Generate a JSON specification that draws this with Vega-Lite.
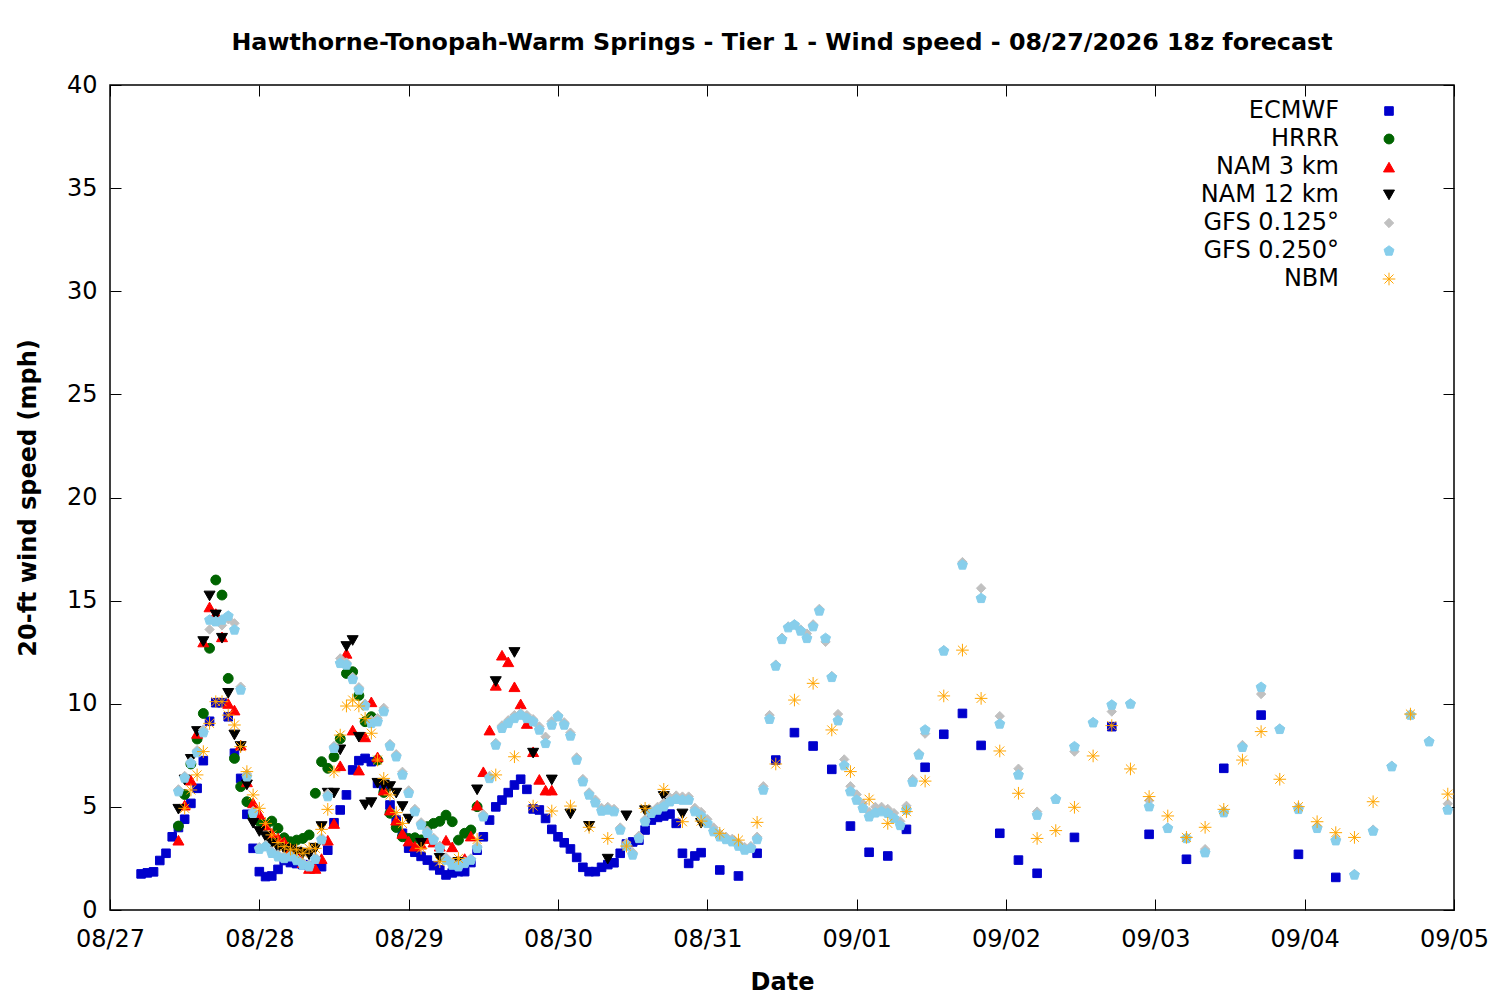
{
  "$schema": "https://vega.github.io/schema/vega-lite/v6.json",
  "autosize": "none",
  "padding": {"left": 110, "top": 85, "right": 46, "bottom": 90},
  "width": 1344,
  "height": 825,
  "background": "white",
  "title": {
    "text": "Hawthorne-Tonopah-Warm Springs - Tier 1 - Wind speed - 08/27/2026 18z forecast",
    "font": "DejaVu Sans",
    "fontSize": 23.8,
    "fontWeight": "bold",
    "color": "black",
    "anchor": "middle",
    "baseline": "alphabetic",
    "offset": -1
  },
  "config": {
    "font": "DejaVu Sans",
    "view": {"stroke": "black", "strokeWidth": 1.5},
    "axis": {
      "labelFont": "DejaVu Sans",
      "labelFontSize": 24,
      "labelColor": "black",
      "titleFont": "DejaVu Sans",
      "titleFontSize": 24,
      "titleFontWeight": "bold",
      "titleColor": "black",
      "tickColor": "black",
      "tickWidth": 1,
      "tickSize": -11,
      "domain": false,
      "grid": false,
      "labelFlush": false
    },
    "legend": {
      "orient": "none",
      "legendX": 1267,
      "legendY": 14,
      "labelAlign": "right",
      "labelOffset": -62,
      "labelFont": "DejaVu Sans",
      "labelFontSize": 24,
      "labelColor": "black",
      "symbolSize": 121,
      "symbolStrokeWidth": 1,
      "rowPadding": 4,
      "padding": 0
    }
  },
  "data": {
    "values": [
      {"m":"ECMWF","t":"2026-08-27T05:00","v":1.75},{"m":"ECMWF","t":"2026-08-27T06:00","v":1.8},{"m":"ECMWF","t":"2026-08-27T07:00","v":1.85},{"m":"ECMWF","t":"2026-08-27T08:00","v":2.4},{"m":"ECMWF","t":"2026-08-27T09:00","v":2.75},{"m":"ECMWF","t":"2026-08-27T10:00","v":3.55},{"m":"ECMWF","t":"2026-08-27T11:00","v":4.0},{"m":"ECMWF","t":"2026-08-27T12:00","v":4.4},{"m":"ECMWF","t":"2026-08-27T13:00","v":5.17},{"m":"ECMWF","t":"2026-08-27T14:00","v":5.9},{"m":"ECMWF","t":"2026-08-27T15:00","v":7.24},{"m":"ECMWF","t":"2026-08-27T16:00","v":9.15},{"m":"ECMWF","t":"2026-08-27T17:00","v":10.05},{"m":"ECMWF","t":"2026-08-27T18:00","v":10.05},{"m":"ECMWF","t":"2026-08-27T19:00","v":9.37},{"m":"ECMWF","t":"2026-08-27T20:00","v":7.6},{"m":"ECMWF","t":"2026-08-27T21:00","v":6.38},{"m":"ECMWF","t":"2026-08-27T22:00","v":4.64},{"m":"ECMWF","t":"2026-08-27T23:00","v":2.99},
      {"m":"ECMWF","t":"2026-08-28T00:00","v":1.86},{"m":"ECMWF","t":"2026-08-28T01:00","v":1.62},{"m":"ECMWF","t":"2026-08-28T02:00","v":1.65},{"m":"ECMWF","t":"2026-08-28T03:00","v":1.97},{"m":"ECMWF","t":"2026-08-28T04:00","v":2.4},{"m":"ECMWF","t":"2026-08-28T05:00","v":2.3},{"m":"ECMWF","t":"2026-08-28T06:00","v":2.25},{"m":"ECMWF","t":"2026-08-28T07:00","v":2.2},{"m":"ECMWF","t":"2026-08-28T08:00","v":2.15},{"m":"ECMWF","t":"2026-08-28T09:00","v":2.1},{"m":"ECMWF","t":"2026-08-28T10:00","v":2.1},{"m":"ECMWF","t":"2026-08-28T11:00","v":2.9},{"m":"ECMWF","t":"2026-08-28T12:00","v":4.23},{"m":"ECMWF","t":"2026-08-28T13:00","v":4.85},{"m":"ECMWF","t":"2026-08-28T14:00","v":5.58},{"m":"ECMWF","t":"2026-08-28T15:00","v":6.79},{"m":"ECMWF","t":"2026-08-28T16:00","v":7.24},{"m":"ECMWF","t":"2026-08-28T17:00","v":7.35},{"m":"ECMWF","t":"2026-08-28T18:00","v":7.19},{"m":"ECMWF","t":"2026-08-28T19:00","v":6.14},{"m":"ECMWF","t":"2026-08-28T20:00","v":5.9},{"m":"ECMWF","t":"2026-08-28T21:00","v":5.09},{"m":"ECMWF","t":"2026-08-28T22:00","v":4.36},{"m":"ECMWF","t":"2026-08-28T23:00","v":3.72},
      {"m":"ECMWF","t":"2026-08-29T00:00","v":3.0},{"m":"ECMWF","t":"2026-08-29T01:00","v":2.8},{"m":"ECMWF","t":"2026-08-29T02:00","v":2.6},{"m":"ECMWF","t":"2026-08-29T03:00","v":2.42},{"m":"ECMWF","t":"2026-08-29T04:00","v":2.15},{"m":"ECMWF","t":"2026-08-29T05:00","v":1.94},{"m":"ECMWF","t":"2026-08-29T06:00","v":1.7},{"m":"ECMWF","t":"2026-08-29T07:00","v":1.8},{"m":"ECMWF","t":"2026-08-29T08:00","v":1.86},{"m":"ECMWF","t":"2026-08-29T09:00","v":1.86},{"m":"ECMWF","t":"2026-08-29T10:00","v":2.3},{"m":"ECMWF","t":"2026-08-29T11:00","v":2.9},{"m":"ECMWF","t":"2026-08-29T12:00","v":3.55},{"m":"ECMWF","t":"2026-08-29T13:00","v":4.36},{"m":"ECMWF","t":"2026-08-29T14:00","v":5.0},{"m":"ECMWF","t":"2026-08-29T15:00","v":5.33},{"m":"ECMWF","t":"2026-08-29T16:00","v":5.69},{"m":"ECMWF","t":"2026-08-29T17:00","v":6.06},{"m":"ECMWF","t":"2026-08-29T18:00","v":6.34},{"m":"ECMWF","t":"2026-08-29T19:00","v":5.85},{"m":"ECMWF","t":"2026-08-29T20:00","v":4.9},{"m":"ECMWF","t":"2026-08-29T21:00","v":4.85},{"m":"ECMWF","t":"2026-08-29T22:00","v":4.44},{"m":"ECMWF","t":"2026-08-29T23:00","v":3.91},
      {"m":"ECMWF","t":"2026-08-30T00:00","v":3.55},{"m":"ECMWF","t":"2026-08-30T01:00","v":3.26},{"m":"ECMWF","t":"2026-08-30T02:00","v":2.96},{"m":"ECMWF","t":"2026-08-30T03:00","v":2.55},{"m":"ECMWF","t":"2026-08-30T04:00","v":2.07},{"m":"ECMWF","t":"2026-08-30T05:00","v":1.86},{"m":"ECMWF","t":"2026-08-30T06:00","v":1.86},{"m":"ECMWF","t":"2026-08-30T07:00","v":2.07},{"m":"ECMWF","t":"2026-08-30T08:00","v":2.2},{"m":"ECMWF","t":"2026-08-30T09:00","v":2.29},{"m":"ECMWF","t":"2026-08-30T10:00","v":2.75},{"m":"ECMWF","t":"2026-08-30T11:00","v":3.2},{"m":"ECMWF","t":"2026-08-30T12:00","v":3.3},{"m":"ECMWF","t":"2026-08-30T13:00","v":3.39},{"m":"ECMWF","t":"2026-08-30T14:00","v":3.88},{"m":"ECMWF","t":"2026-08-30T15:00","v":4.36},{"m":"ECMWF","t":"2026-08-30T16:00","v":4.49},{"m":"ECMWF","t":"2026-08-30T17:00","v":4.56},{"m":"ECMWF","t":"2026-08-30T18:00","v":4.65},{"m":"ECMWF","t":"2026-08-30T19:00","v":4.2},{"m":"ECMWF","t":"2026-08-30T20:00","v":2.75},{"m":"ECMWF","t":"2026-08-30T21:00","v":2.26},{"m":"ECMWF","t":"2026-08-30T22:00","v":2.62},{"m":"ECMWF","t":"2026-08-30T23:00","v":2.78},
      {"m":"ECMWF","t":"2026-08-31T02:00","v":1.94},{"m":"ECMWF","t":"2026-08-31T05:00","v":1.65},{"m":"ECMWF","t":"2026-08-31T08:00","v":2.75},{"m":"ECMWF","t":"2026-08-31T11:00","v":7.27},{"m":"ECMWF","t":"2026-08-31T14:00","v":8.6},{"m":"ECMWF","t":"2026-08-31T17:00","v":7.95},{"m":"ECMWF","t":"2026-08-31T20:00","v":6.82},{"m":"ECMWF","t":"2026-08-31T23:00","v":4.07},
      {"m":"ECMWF","t":"2026-09-01T02:00","v":2.8},{"m":"ECMWF","t":"2026-09-01T05:00","v":2.62},{"m":"ECMWF","t":"2026-09-01T08:00","v":3.91},{"m":"ECMWF","t":"2026-09-01T11:00","v":6.92},{"m":"ECMWF","t":"2026-09-01T14:00","v":8.52},{"m":"ECMWF","t":"2026-09-01T17:00","v":9.53},{"m":"ECMWF","t":"2026-09-01T20:00","v":7.98},{"m":"ECMWF","t":"2026-09-01T23:00","v":3.72},
      {"m":"ECMWF","t":"2026-09-02T02:00","v":2.42},{"m":"ECMWF","t":"2026-09-02T05:00","v":1.78},{"m":"ECMWF","t":"2026-09-02T11:00","v":3.52},{"m":"ECMWF","t":"2026-09-02T17:00","v":8.89},{"m":"ECMWF","t":"2026-09-02T23:00","v":3.67},
      {"m":"ECMWF","t":"2026-09-03T05:00","v":2.46},{"m":"ECMWF","t":"2026-09-03T11:00","v":6.87},{"m":"ECMWF","t":"2026-09-03T17:00","v":9.45},{"m":"ECMWF","t":"2026-09-03T23:00","v":2.7},{"m":"ECMWF","t":"2026-09-04T05:00","v":1.58},

      {"m":"HRRR","t":"2026-08-27T11:00","v":4.07},{"m":"HRRR","t":"2026-08-27T12:00","v":5.6},{"m":"HRRR","t":"2026-08-27T13:00","v":7.08},{"m":"HRRR","t":"2026-08-27T14:00","v":8.29},{"m":"HRRR","t":"2026-08-27T15:00","v":9.53},{"m":"HRRR","t":"2026-08-27T16:00","v":12.69},{"m":"HRRR","t":"2026-08-27T17:00","v":16.0},{"m":"HRRR","t":"2026-08-27T18:00","v":15.27},{"m":"HRRR","t":"2026-08-27T19:00","v":11.23},{"m":"HRRR","t":"2026-08-27T20:00","v":7.35},{"m":"HRRR","t":"2026-08-27T21:00","v":5.98},{"m":"HRRR","t":"2026-08-27T22:00","v":5.25},{"m":"HRRR","t":"2026-08-27T23:00","v":4.6},
      {"m":"HRRR","t":"2026-08-28T00:00","v":4.3},{"m":"HRRR","t":"2026-08-28T01:00","v":4.1},{"m":"HRRR","t":"2026-08-28T02:00","v":4.31},{"m":"HRRR","t":"2026-08-28T03:00","v":3.96},{"m":"HRRR","t":"2026-08-28T04:00","v":3.5},{"m":"HRRR","t":"2026-08-28T05:00","v":3.31},{"m":"HRRR","t":"2026-08-28T06:00","v":3.39},{"m":"HRRR","t":"2026-08-28T07:00","v":3.47},{"m":"HRRR","t":"2026-08-28T08:00","v":3.64},{"m":"HRRR","t":"2026-08-28T09:00","v":5.66},{"m":"HRRR","t":"2026-08-28T10:00","v":7.19},{"m":"HRRR","t":"2026-08-28T11:00","v":6.87},{"m":"HRRR","t":"2026-08-28T12:00","v":7.43},{"m":"HRRR","t":"2026-08-28T13:00","v":8.3},{"m":"HRRR","t":"2026-08-28T14:00","v":11.47},{"m":"HRRR","t":"2026-08-28T15:00","v":11.55},{"m":"HRRR","t":"2026-08-28T16:00","v":10.4},{"m":"HRRR","t":"2026-08-28T17:00","v":9.13},{"m":"HRRR","t":"2026-08-28T18:00","v":9.37},{"m":"HRRR","t":"2026-08-28T19:00","v":7.27},{"m":"HRRR","t":"2026-08-28T20:00","v":5.7},{"m":"HRRR","t":"2026-08-28T21:00","v":4.69},{"m":"HRRR","t":"2026-08-28T22:00","v":4.0},{"m":"HRRR","t":"2026-08-28T23:00","v":3.55},
      {"m":"HRRR","t":"2026-08-29T00:00","v":3.47},{"m":"HRRR","t":"2026-08-29T01:00","v":3.5},{"m":"HRRR","t":"2026-08-29T02:00","v":3.4},{"m":"HRRR","t":"2026-08-29T03:00","v":4.04},{"m":"HRRR","t":"2026-08-29T04:00","v":4.2},{"m":"HRRR","t":"2026-08-29T05:00","v":4.3},{"m":"HRRR","t":"2026-08-29T06:00","v":4.6},{"m":"HRRR","t":"2026-08-29T07:00","v":4.28},{"m":"HRRR","t":"2026-08-29T08:00","v":3.39},{"m":"HRRR","t":"2026-08-29T09:00","v":3.72},{"m":"HRRR","t":"2026-08-29T10:00","v":3.88},{"m":"HRRR","t":"2026-08-29T11:00","v":5.01},

      {"m":"NAM 3 km","t":"2026-08-27T11:00","v":3.39},{"m":"NAM 3 km","t":"2026-08-27T12:00","v":5.09},{"m":"NAM 3 km","t":"2026-08-27T13:00","v":6.3},{"m":"NAM 3 km","t":"2026-08-27T14:00","v":8.57},{"m":"NAM 3 km","t":"2026-08-27T15:00","v":13.0},{"m":"NAM 3 km","t":"2026-08-27T16:00","v":14.7},{"m":"NAM 3 km","t":"2026-08-27T17:00","v":14.38},{"m":"NAM 3 km","t":"2026-08-27T18:00","v":13.25},{"m":"NAM 3 km","t":"2026-08-27T19:00","v":10.02},{"m":"NAM 3 km","t":"2026-08-27T20:00","v":9.7},{"m":"NAM 3 km","t":"2026-08-27T21:00","v":8.0},{"m":"NAM 3 km","t":"2026-08-27T22:00","v":6.22},{"m":"NAM 3 km","t":"2026-08-27T23:00","v":5.2},
      {"m":"NAM 3 km","t":"2026-08-28T00:00","v":4.65},{"m":"NAM 3 km","t":"2026-08-28T01:00","v":4.12},{"m":"NAM 3 km","t":"2026-08-28T02:00","v":3.72},{"m":"NAM 3 km","t":"2026-08-28T03:00","v":3.5},{"m":"NAM 3 km","t":"2026-08-28T04:00","v":3.31},{"m":"NAM 3 km","t":"2026-08-28T05:00","v":3.0},{"m":"NAM 3 km","t":"2026-08-28T06:00","v":2.7},{"m":"NAM 3 km","t":"2026-08-28T07:00","v":2.3},{"m":"NAM 3 km","t":"2026-08-28T08:00","v":2.02},{"m":"NAM 3 km","t":"2026-08-28T09:00","v":2.02},{"m":"NAM 3 km","t":"2026-08-28T10:00","v":2.5},{"m":"NAM 3 km","t":"2026-08-28T11:00","v":3.39},{"m":"NAM 3 km","t":"2026-08-28T12:00","v":4.2},{"m":"NAM 3 km","t":"2026-08-28T13:00","v":7.0},{"m":"NAM 3 km","t":"2026-08-28T14:00","v":12.45},{"m":"NAM 3 km","t":"2026-08-28T15:00","v":8.73},{"m":"NAM 3 km","t":"2026-08-28T16:00","v":6.79},{"m":"NAM 3 km","t":"2026-08-28T17:00","v":8.4},{"m":"NAM 3 km","t":"2026-08-28T18:00","v":10.1},{"m":"NAM 3 km","t":"2026-08-28T19:00","v":7.43},{"m":"NAM 3 km","t":"2026-08-28T20:00","v":5.82},{"m":"NAM 3 km","t":"2026-08-28T21:00","v":4.85},{"m":"NAM 3 km","t":"2026-08-28T22:00","v":4.36},{"m":"NAM 3 km","t":"2026-08-28T23:00","v":3.72},
      {"m":"NAM 3 km","t":"2026-08-29T00:00","v":3.35},{"m":"NAM 3 km","t":"2026-08-29T01:00","v":3.1},{"m":"NAM 3 km","t":"2026-08-29T02:00","v":3.2},{"m":"NAM 3 km","t":"2026-08-29T03:00","v":3.47},{"m":"NAM 3 km","t":"2026-08-29T04:00","v":3.3},{"m":"NAM 3 km","t":"2026-08-29T05:00","v":3.1},{"m":"NAM 3 km","t":"2026-08-29T06:00","v":3.39},{"m":"NAM 3 km","t":"2026-08-29T07:00","v":3.07},{"m":"NAM 3 km","t":"2026-08-29T08:00","v":2.4},{"m":"NAM 3 km","t":"2026-08-29T09:00","v":2.5},{"m":"NAM 3 km","t":"2026-08-29T10:00","v":3.59},{"m":"NAM 3 km","t":"2026-08-29T11:00","v":5.09},{"m":"NAM 3 km","t":"2026-08-29T12:00","v":6.71},{"m":"NAM 3 km","t":"2026-08-29T13:00","v":8.73},{"m":"NAM 3 km","t":"2026-08-29T14:00","v":10.9},{"m":"NAM 3 km","t":"2026-08-29T15:00","v":12.36},{"m":"NAM 3 km","t":"2026-08-29T16:00","v":12.04},{"m":"NAM 3 km","t":"2026-08-29T17:00","v":10.83},{"m":"NAM 3 km","t":"2026-08-29T18:00","v":10.0},{"m":"NAM 3 km","t":"2026-08-29T19:00","v":9.05},{"m":"NAM 3 km","t":"2026-08-29T20:00","v":7.68},{"m":"NAM 3 km","t":"2026-08-29T21:00","v":6.34},{"m":"NAM 3 km","t":"2026-08-29T22:00","v":5.82},{"m":"NAM 3 km","t":"2026-08-29T23:00","v":5.82},

      {"m":"NAM 12 km","t":"2026-08-27T11:00","v":4.88},{"m":"NAM 12 km","t":"2026-08-27T12:00","v":6.3},{"m":"NAM 12 km","t":"2026-08-27T13:00","v":7.3},{"m":"NAM 12 km","t":"2026-08-27T14:00","v":8.65},{"m":"NAM 12 km","t":"2026-08-27T15:00","v":13.01},{"m":"NAM 12 km","t":"2026-08-27T16:00","v":15.22},{"m":"NAM 12 km","t":"2026-08-27T17:00","v":14.3},{"m":"NAM 12 km","t":"2026-08-27T18:00","v":13.17},{"m":"NAM 12 km","t":"2026-08-27T19:00","v":10.5},{"m":"NAM 12 km","t":"2026-08-27T20:00","v":8.48},{"m":"NAM 12 km","t":"2026-08-27T21:00","v":7.92},{"m":"NAM 12 km","t":"2026-08-27T22:00","v":6.06},{"m":"NAM 12 km","t":"2026-08-27T23:00","v":4.2},
      {"m":"NAM 12 km","t":"2026-08-28T00:00","v":3.8},{"m":"NAM 12 km","t":"2026-08-28T01:00","v":3.55},{"m":"NAM 12 km","t":"2026-08-28T02:00","v":3.23},{"m":"NAM 12 km","t":"2026-08-28T03:00","v":3.0},{"m":"NAM 12 km","t":"2026-08-28T04:00","v":2.94},{"m":"NAM 12 km","t":"2026-08-28T05:00","v":2.91},{"m":"NAM 12 km","t":"2026-08-28T06:00","v":2.8},{"m":"NAM 12 km","t":"2026-08-28T07:00","v":2.75},{"m":"NAM 12 km","t":"2026-08-28T08:00","v":2.67},{"m":"NAM 12 km","t":"2026-08-28T09:00","v":2.99},{"m":"NAM 12 km","t":"2026-08-28T10:00","v":4.04},{"m":"NAM 12 km","t":"2026-08-28T11:00","v":5.66},{"m":"NAM 12 km","t":"2026-08-28T12:00","v":5.66},{"m":"NAM 12 km","t":"2026-08-28T13:00","v":7.76},{"m":"NAM 12 km","t":"2026-08-28T14:00","v":12.77},{"m":"NAM 12 km","t":"2026-08-28T15:00","v":13.06},{"m":"NAM 12 km","t":"2026-08-28T16:00","v":8.37},{"m":"NAM 12 km","t":"2026-08-28T17:00","v":5.09},{"m":"NAM 12 km","t":"2026-08-28T18:00","v":5.2},{"m":"NAM 12 km","t":"2026-08-28T19:00","v":6.14},{"m":"NAM 12 km","t":"2026-08-28T20:00","v":6.06},{"m":"NAM 12 km","t":"2026-08-28T21:00","v":5.98},{"m":"NAM 12 km","t":"2026-08-28T22:00","v":5.66},{"m":"NAM 12 km","t":"2026-08-28T23:00","v":5.01},
      {"m":"NAM 12 km","t":"2026-08-29T00:00","v":4.4},{"m":"NAM 12 km","t":"2026-08-29T02:00","v":3.23},{"m":"NAM 12 km","t":"2026-08-29T05:00","v":2.5},{"m":"NAM 12 km","t":"2026-08-29T08:00","v":2.3},{"m":"NAM 12 km","t":"2026-08-29T11:00","v":5.82},{"m":"NAM 12 km","t":"2026-08-29T14:00","v":11.07},{"m":"NAM 12 km","t":"2026-08-29T17:00","v":12.48},{"m":"NAM 12 km","t":"2026-08-29T20:00","v":7.6},{"m":"NAM 12 km","t":"2026-08-29T23:00","v":6.3},
      {"m":"NAM 12 km","t":"2026-08-30T02:00","v":4.65},{"m":"NAM 12 km","t":"2026-08-30T05:00","v":4.05},{"m":"NAM 12 km","t":"2026-08-30T08:00","v":2.46},{"m":"NAM 12 km","t":"2026-08-30T11:00","v":4.56},{"m":"NAM 12 km","t":"2026-08-30T14:00","v":4.81},{"m":"NAM 12 km","t":"2026-08-30T17:00","v":5.5},{"m":"NAM 12 km","t":"2026-08-30T20:00","v":4.65},{"m":"NAM 12 km","t":"2026-08-30T23:00","v":4.2},

      {"m":"GFS 0.125°","t":"2026-08-27T11:00","v":5.85},{"m":"GFS 0.125°","t":"2026-08-27T12:00","v":6.5},{"m":"GFS 0.125°","t":"2026-08-27T13:00","v":7.2},{"m":"GFS 0.125°","t":"2026-08-27T14:00","v":7.75},{"m":"GFS 0.125°","t":"2026-08-27T15:00","v":8.75},{"m":"GFS 0.125°","t":"2026-08-27T16:00","v":13.6},{"m":"GFS 0.125°","t":"2026-08-27T17:00","v":14.0},{"m":"GFS 0.125°","t":"2026-08-27T18:00","v":13.8},{"m":"GFS 0.125°","t":"2026-08-27T19:00","v":14.1},{"m":"GFS 0.125°","t":"2026-08-27T20:00","v":13.9},{"m":"GFS 0.125°","t":"2026-08-27T21:00","v":10.83},{"m":"GFS 0.125°","t":"2026-08-27T22:00","v":6.6},{"m":"GFS 0.125°","t":"2026-08-27T23:00","v":4.8},
      {"m":"GFS 0.125°","t":"2026-08-28T00:00","v":3.05},{"m":"GFS 0.125°","t":"2026-08-28T01:00","v":3.15},{"m":"GFS 0.125°","t":"2026-08-28T02:00","v":2.85},{"m":"GFS 0.125°","t":"2026-08-28T03:00","v":2.7},{"m":"GFS 0.125°","t":"2026-08-28T04:00","v":2.6},{"m":"GFS 0.125°","t":"2026-08-28T05:00","v":2.65},{"m":"GFS 0.125°","t":"2026-08-28T06:00","v":2.5},{"m":"GFS 0.125°","t":"2026-08-28T07:00","v":2.3},{"m":"GFS 0.125°","t":"2026-08-28T08:00","v":2.2},{"m":"GFS 0.125°","t":"2026-08-28T09:00","v":2.55},{"m":"GFS 0.125°","t":"2026-08-28T10:00","v":3.5},{"m":"GFS 0.125°","t":"2026-08-28T11:00","v":5.65},{"m":"GFS 0.125°","t":"2026-08-28T12:00","v":7.95},{"m":"GFS 0.125°","t":"2026-08-28T13:00","v":12.2},{"m":"GFS 0.125°","t":"2026-08-28T14:00","v":12.0},{"m":"GFS 0.125°","t":"2026-08-28T15:00","v":11.3},{"m":"GFS 0.125°","t":"2026-08-28T16:00","v":10.8},{"m":"GFS 0.125°","t":"2026-08-28T17:00","v":10.0},{"m":"GFS 0.125°","t":"2026-08-28T18:00","v":9.2},{"m":"GFS 0.125°","t":"2026-08-28T19:00","v":9.3},{"m":"GFS 0.125°","t":"2026-08-28T20:00","v":9.8},{"m":"GFS 0.125°","t":"2026-08-28T21:00","v":8.05},{"m":"GFS 0.125°","t":"2026-08-28T22:00","v":7.55},{"m":"GFS 0.125°","t":"2026-08-28T23:00","v":6.7},
      {"m":"GFS 0.125°","t":"2026-08-29T00:00","v":5.8},{"m":"GFS 0.125°","t":"2026-08-29T01:00","v":4.9},{"m":"GFS 0.125°","t":"2026-08-29T02:00","v":4.25},{"m":"GFS 0.125°","t":"2026-08-29T03:00","v":3.85},{"m":"GFS 0.125°","t":"2026-08-29T04:00","v":3.5},{"m":"GFS 0.125°","t":"2026-08-29T05:00","v":3.1},{"m":"GFS 0.125°","t":"2026-08-29T06:00","v":2.55},{"m":"GFS 0.125°","t":"2026-08-29T07:00","v":2.3},{"m":"GFS 0.125°","t":"2026-08-29T08:00","v":2.2},{"m":"GFS 0.125°","t":"2026-08-29T09:00","v":2.35},{"m":"GFS 0.125°","t":"2026-08-29T10:00","v":2.5},{"m":"GFS 0.125°","t":"2026-08-29T11:00","v":3.1},{"m":"GFS 0.125°","t":"2026-08-29T12:00","v":4.65},{"m":"GFS 0.125°","t":"2026-08-29T13:00","v":6.5},{"m":"GFS 0.125°","t":"2026-08-29T14:00","v":8.1},{"m":"GFS 0.125°","t":"2026-08-29T15:00","v":8.95},{"m":"GFS 0.125°","t":"2026-08-29T16:00","v":9.2},{"m":"GFS 0.125°","t":"2026-08-29T17:00","v":9.45},{"m":"GFS 0.125°","t":"2026-08-29T18:00","v":9.55},{"m":"GFS 0.125°","t":"2026-08-29T19:00","v":9.45},{"m":"GFS 0.125°","t":"2026-08-29T20:00","v":9.25},{"m":"GFS 0.125°","t":"2026-08-29T21:00","v":8.9},{"m":"GFS 0.125°","t":"2026-08-29T22:00","v":8.4},{"m":"GFS 0.125°","t":"2026-08-29T23:00","v":9.15},
      {"m":"GFS 0.125°","t":"2026-08-30T00:00","v":9.45},{"m":"GFS 0.125°","t":"2026-08-30T01:00","v":9.1},{"m":"GFS 0.125°","t":"2026-08-30T02:00","v":8.6},{"m":"GFS 0.125°","t":"2026-08-30T03:00","v":7.4},{"m":"GFS 0.125°","t":"2026-08-30T04:00","v":6.35},{"m":"GFS 0.125°","t":"2026-08-30T05:00","v":5.7},{"m":"GFS 0.125°","t":"2026-08-30T06:00","v":5.35},{"m":"GFS 0.125°","t":"2026-08-30T07:00","v":4.95},{"m":"GFS 0.125°","t":"2026-08-30T08:00","v":5.0},{"m":"GFS 0.125°","t":"2026-08-30T09:00","v":4.9},{"m":"GFS 0.125°","t":"2026-08-30T10:00","v":4.0},{"m":"GFS 0.125°","t":"2026-08-30T11:00","v":3.25},{"m":"GFS 0.125°","t":"2026-08-30T12:00","v":2.8},{"m":"GFS 0.125°","t":"2026-08-30T13:00","v":3.6},{"m":"GFS 0.125°","t":"2026-08-30T14:00","v":4.4},{"m":"GFS 0.125°","t":"2026-08-30T15:00","v":4.8},{"m":"GFS 0.125°","t":"2026-08-30T16:00","v":5.0},{"m":"GFS 0.125°","t":"2026-08-30T17:00","v":5.2},{"m":"GFS 0.125°","t":"2026-08-30T18:00","v":5.45},{"m":"GFS 0.125°","t":"2026-08-30T19:00","v":5.55},{"m":"GFS 0.125°","t":"2026-08-30T20:00","v":5.5},{"m":"GFS 0.125°","t":"2026-08-30T21:00","v":5.5},{"m":"GFS 0.125°","t":"2026-08-30T22:00","v":4.95},{"m":"GFS 0.125°","t":"2026-08-30T23:00","v":4.75},
      {"m":"GFS 0.125°","t":"2026-08-31T00:00","v":4.4},{"m":"GFS 0.125°","t":"2026-08-31T01:00","v":4.0},{"m":"GFS 0.125°","t":"2026-08-31T02:00","v":3.7},{"m":"GFS 0.125°","t":"2026-08-31T03:00","v":3.55},{"m":"GFS 0.125°","t":"2026-08-31T04:00","v":3.45},{"m":"GFS 0.125°","t":"2026-08-31T05:00","v":3.25},{"m":"GFS 0.125°","t":"2026-08-31T06:00","v":3.05},{"m":"GFS 0.125°","t":"2026-08-31T07:00","v":3.1},{"m":"GFS 0.125°","t":"2026-08-31T08:00","v":3.55},{"m":"GFS 0.125°","t":"2026-08-31T09:00","v":6.0},{"m":"GFS 0.125°","t":"2026-08-31T10:00","v":9.45},{"m":"GFS 0.125°","t":"2026-08-31T11:00","v":11.9},{"m":"GFS 0.125°","t":"2026-08-31T12:00","v":13.2},{"m":"GFS 0.125°","t":"2026-08-31T13:00","v":13.75},{"m":"GFS 0.125°","t":"2026-08-31T14:00","v":13.85},{"m":"GFS 0.125°","t":"2026-08-31T15:00","v":13.6},{"m":"GFS 0.125°","t":"2026-08-31T16:00","v":13.4},{"m":"GFS 0.125°","t":"2026-08-31T17:00","v":13.85},{"m":"GFS 0.125°","t":"2026-08-31T18:00","v":14.6},{"m":"GFS 0.125°","t":"2026-08-31T19:00","v":13.0},{"m":"GFS 0.125°","t":"2026-08-31T20:00","v":11.35},{"m":"GFS 0.125°","t":"2026-08-31T21:00","v":9.5},{"m":"GFS 0.125°","t":"2026-08-31T22:00","v":7.3},{"m":"GFS 0.125°","t":"2026-08-31T23:00","v":6.0},
      {"m":"GFS 0.125°","t":"2026-09-01T00:00","v":5.6},{"m":"GFS 0.125°","t":"2026-09-01T01:00","v":5.15},{"m":"GFS 0.125°","t":"2026-09-01T02:00","v":4.75},{"m":"GFS 0.125°","t":"2026-09-01T03:00","v":5.0},{"m":"GFS 0.125°","t":"2026-09-01T04:00","v":5.0},{"m":"GFS 0.125°","t":"2026-09-01T05:00","v":4.9},{"m":"GFS 0.125°","t":"2026-09-01T06:00","v":4.7},{"m":"GFS 0.125°","t":"2026-09-01T07:00","v":4.3},{"m":"GFS 0.125°","t":"2026-09-01T08:00","v":5.05},{"m":"GFS 0.125°","t":"2026-09-01T09:00","v":6.35},{"m":"GFS 0.125°","t":"2026-09-01T10:00","v":7.6},{"m":"GFS 0.125°","t":"2026-09-01T11:00","v":8.55},{"m":"GFS 0.125°","t":"2026-09-01T14:00","v":12.6},{"m":"GFS 0.125°","t":"2026-09-01T17:00","v":16.87},{"m":"GFS 0.125°","t":"2026-09-01T20:00","v":15.6},{"m":"GFS 0.125°","t":"2026-09-01T23:00","v":9.4},
      {"m":"GFS 0.125°","t":"2026-09-02T02:00","v":6.85},{"m":"GFS 0.125°","t":"2026-09-02T05:00","v":4.77},{"m":"GFS 0.125°","t":"2026-09-02T08:00","v":5.4},{"m":"GFS 0.125°","t":"2026-09-02T11:00","v":7.68},{"m":"GFS 0.125°","t":"2026-09-02T14:00","v":9.1},{"m":"GFS 0.125°","t":"2026-09-02T17:00","v":9.62},{"m":"GFS 0.125°","t":"2026-09-02T20:00","v":10.0},{"m":"GFS 0.125°","t":"2026-09-02T23:00","v":5.3},
      {"m":"GFS 0.125°","t":"2026-09-03T02:00","v":4.0},{"m":"GFS 0.125°","t":"2026-09-03T05:00","v":3.5},{"m":"GFS 0.125°","t":"2026-09-03T08:00","v":2.95},{"m":"GFS 0.125°","t":"2026-09-03T11:00","v":4.8},{"m":"GFS 0.125°","t":"2026-09-03T14:00","v":8.0},{"m":"GFS 0.125°","t":"2026-09-03T17:00","v":10.47},{"m":"GFS 0.125°","t":"2026-09-03T20:00","v":8.8},{"m":"GFS 0.125°","t":"2026-09-03T23:00","v":5.0},
      {"m":"GFS 0.125°","t":"2026-09-04T02:00","v":4.05},{"m":"GFS 0.125°","t":"2026-09-04T05:00","v":3.45},{"m":"GFS 0.125°","t":"2026-09-04T08:00","v":1.75},{"m":"GFS 0.125°","t":"2026-09-04T11:00","v":3.9},{"m":"GFS 0.125°","t":"2026-09-04T14:00","v":7.0},{"m":"GFS 0.125°","t":"2026-09-04T17:00","v":9.5},{"m":"GFS 0.125°","t":"2026-09-04T20:00","v":8.2},{"m":"GFS 0.125°","t":"2026-09-04T23:00","v":5.15},

      {"m":"GFS 0.250°","t":"2026-08-27T11:00","v":5.74},{"m":"GFS 0.250°","t":"2026-08-27T12:00","v":6.4},{"m":"GFS 0.250°","t":"2026-08-27T13:00","v":7.11},{"m":"GFS 0.250°","t":"2026-08-27T14:00","v":7.63},{"m":"GFS 0.250°","t":"2026-08-27T15:00","v":8.6},{"m":"GFS 0.250°","t":"2026-08-27T16:00","v":14.06},{"m":"GFS 0.250°","t":"2026-08-27T17:00","v":13.98},{"m":"GFS 0.250°","t":"2026-08-27T18:00","v":14.06},{"m":"GFS 0.250°","t":"2026-08-27T19:00","v":14.25},{"m":"GFS 0.250°","t":"2026-08-27T20:00","v":13.58},{"m":"GFS 0.250°","t":"2026-08-27T21:00","v":10.67},{"m":"GFS 0.250°","t":"2026-08-27T22:00","v":6.46},{"m":"GFS 0.250°","t":"2026-08-27T23:00","v":4.69},
      {"m":"GFS 0.250°","t":"2026-08-28T00:00","v":2.95},{"m":"GFS 0.250°","t":"2026-08-28T01:00","v":3.07},{"m":"GFS 0.250°","t":"2026-08-28T02:00","v":2.75},{"m":"GFS 0.250°","t":"2026-08-28T03:00","v":2.58},{"m":"GFS 0.250°","t":"2026-08-28T04:00","v":2.5},{"m":"GFS 0.250°","t":"2026-08-28T05:00","v":2.58},{"m":"GFS 0.250°","t":"2026-08-28T06:00","v":2.4},{"m":"GFS 0.250°","t":"2026-08-28T07:00","v":2.18},{"m":"GFS 0.250°","t":"2026-08-28T08:00","v":2.1},{"m":"GFS 0.250°","t":"2026-08-28T09:00","v":2.46},{"m":"GFS 0.250°","t":"2026-08-28T10:00","v":3.4},{"m":"GFS 0.250°","t":"2026-08-28T11:00","v":5.5},{"m":"GFS 0.250°","t":"2026-08-28T12:00","v":7.84},{"m":"GFS 0.250°","t":"2026-08-28T13:00","v":11.96},{"m":"GFS 0.250°","t":"2026-08-28T14:00","v":11.88},{"m":"GFS 0.250°","t":"2026-08-28T15:00","v":11.18},{"m":"GFS 0.250°","t":"2026-08-28T16:00","v":10.67},{"m":"GFS 0.250°","t":"2026-08-28T17:00","v":9.9},{"m":"GFS 0.250°","t":"2026-08-28T18:00","v":9.05},{"m":"GFS 0.250°","t":"2026-08-28T19:00","v":9.13},{"m":"GFS 0.250°","t":"2026-08-28T20:00","v":9.62},{"m":"GFS 0.250°","t":"2026-08-28T21:00","v":7.95},{"m":"GFS 0.250°","t":"2026-08-28T22:00","v":7.43},{"m":"GFS 0.250°","t":"2026-08-28T23:00","v":6.55},
      {"m":"GFS 0.250°","t":"2026-08-29T00:00","v":5.66},{"m":"GFS 0.250°","t":"2026-08-29T01:00","v":4.77},{"m":"GFS 0.250°","t":"2026-08-29T02:00","v":4.12},{"m":"GFS 0.250°","t":"2026-08-29T03:00","v":3.72},{"m":"GFS 0.250°","t":"2026-08-29T04:00","v":3.39},{"m":"GFS 0.250°","t":"2026-08-29T05:00","v":2.99},{"m":"GFS 0.250°","t":"2026-08-29T06:00","v":2.42},{"m":"GFS 0.250°","t":"2026-08-29T07:00","v":2.18},{"m":"GFS 0.250°","t":"2026-08-29T08:00","v":2.1},{"m":"GFS 0.250°","t":"2026-08-29T09:00","v":2.26},{"m":"GFS 0.250°","t":"2026-08-29T10:00","v":2.42},{"m":"GFS 0.250°","t":"2026-08-29T11:00","v":2.99},{"m":"GFS 0.250°","t":"2026-08-29T12:00","v":4.52},{"m":"GFS 0.250°","t":"2026-08-29T13:00","v":6.38},{"m":"GFS 0.250°","t":"2026-08-29T14:00","v":8.0},{"m":"GFS 0.250°","t":"2026-08-29T15:00","v":8.81},{"m":"GFS 0.250°","t":"2026-08-29T16:00","v":9.05},{"m":"GFS 0.250°","t":"2026-08-29T17:00","v":9.29},{"m":"GFS 0.250°","t":"2026-08-29T18:00","v":9.45},{"m":"GFS 0.250°","t":"2026-08-29T19:00","v":9.29},{"m":"GFS 0.250°","t":"2026-08-29T20:00","v":9.13},{"m":"GFS 0.250°","t":"2026-08-29T21:00","v":8.73},{"m":"GFS 0.250°","t":"2026-08-29T22:00","v":8.08},{"m":"GFS 0.250°","t":"2026-08-29T23:00","v":8.97},
      {"m":"GFS 0.250°","t":"2026-08-30T00:00","v":9.37},{"m":"GFS 0.250°","t":"2026-08-30T01:00","v":8.97},{"m":"GFS 0.250°","t":"2026-08-30T02:00","v":8.44},{"m":"GFS 0.250°","t":"2026-08-30T03:00","v":7.27},{"m":"GFS 0.250°","t":"2026-08-30T04:00","v":6.22},{"m":"GFS 0.250°","t":"2026-08-30T05:00","v":5.58},{"m":"GFS 0.250°","t":"2026-08-30T06:00","v":5.2},{"m":"GFS 0.250°","t":"2026-08-30T07:00","v":4.8},{"m":"GFS 0.250°","t":"2026-08-30T08:00","v":4.85},{"m":"GFS 0.250°","t":"2026-08-30T09:00","v":4.77},{"m":"GFS 0.250°","t":"2026-08-30T10:00","v":3.88},{"m":"GFS 0.250°","t":"2026-08-30T11:00","v":3.1},{"m":"GFS 0.250°","t":"2026-08-30T12:00","v":2.67},{"m":"GFS 0.250°","t":"2026-08-30T13:00","v":3.47},{"m":"GFS 0.250°","t":"2026-08-30T14:00","v":4.28},{"m":"GFS 0.250°","t":"2026-08-30T15:00","v":4.69},{"m":"GFS 0.250°","t":"2026-08-30T16:00","v":4.85},{"m":"GFS 0.250°","t":"2026-08-30T17:00","v":5.01},{"m":"GFS 0.250°","t":"2026-08-30T18:00","v":5.25},{"m":"GFS 0.250°","t":"2026-08-30T19:00","v":5.37},{"m":"GFS 0.250°","t":"2026-08-30T20:00","v":5.33},{"m":"GFS 0.250°","t":"2026-08-30T21:00","v":5.33},{"m":"GFS 0.250°","t":"2026-08-30T22:00","v":4.77},{"m":"GFS 0.250°","t":"2026-08-30T23:00","v":4.56},
      {"m":"GFS 0.250°","t":"2026-08-31T00:00","v":4.2},{"m":"GFS 0.250°","t":"2026-08-31T01:00","v":3.8},{"m":"GFS 0.250°","t":"2026-08-31T02:00","v":3.55},{"m":"GFS 0.250°","t":"2026-08-31T03:00","v":3.42},{"m":"GFS 0.250°","t":"2026-08-31T04:00","v":3.31},{"m":"GFS 0.250°","t":"2026-08-31T05:00","v":3.1},{"m":"GFS 0.250°","t":"2026-08-31T06:00","v":2.91},{"m":"GFS 0.250°","t":"2026-08-31T07:00","v":2.99},{"m":"GFS 0.250°","t":"2026-08-31T08:00","v":3.42},{"m":"GFS 0.250°","t":"2026-08-31T09:00","v":5.82},{"m":"GFS 0.250°","t":"2026-08-31T10:00","v":9.25},{"m":"GFS 0.250°","t":"2026-08-31T11:00","v":11.83},{"m":"GFS 0.250°","t":"2026-08-31T12:00","v":13.12},{"m":"GFS 0.250°","t":"2026-08-31T13:00","v":13.69},{"m":"GFS 0.250°","t":"2026-08-31T14:00","v":13.82},{"m":"GFS 0.250°","t":"2026-08-31T15:00","v":13.53},{"m":"GFS 0.250°","t":"2026-08-31T16:00","v":13.17},{"m":"GFS 0.250°","t":"2026-08-31T17:00","v":13.74},{"m":"GFS 0.250°","t":"2026-08-31T18:00","v":14.5},{"m":"GFS 0.250°","t":"2026-08-31T19:00","v":13.17},{"m":"GFS 0.250°","t":"2026-08-31T20:00","v":11.28},{"m":"GFS 0.250°","t":"2026-08-31T21:00","v":9.18},{"m":"GFS 0.250°","t":"2026-08-31T22:00","v":7.0},{"m":"GFS 0.250°","t":"2026-08-31T23:00","v":5.74},
      {"m":"GFS 0.250°","t":"2026-09-01T00:00","v":5.33},{"m":"GFS 0.250°","t":"2026-09-01T01:00","v":4.93},{"m":"GFS 0.250°","t":"2026-09-01T02:00","v":4.52},{"m":"GFS 0.250°","t":"2026-09-01T03:00","v":4.71},{"m":"GFS 0.250°","t":"2026-09-01T04:00","v":4.77},{"m":"GFS 0.250°","t":"2026-09-01T05:00","v":4.69},{"m":"GFS 0.250°","t":"2026-09-01T06:00","v":4.44},{"m":"GFS 0.250°","t":"2026-09-01T07:00","v":4.1},{"m":"GFS 0.250°","t":"2026-09-01T08:00","v":4.85},{"m":"GFS 0.250°","t":"2026-09-01T09:00","v":6.2},{"m":"GFS 0.250°","t":"2026-09-01T10:00","v":7.52},{"m":"GFS 0.250°","t":"2026-09-01T11:00","v":8.73},{"m":"GFS 0.250°","t":"2026-09-01T14:00","v":12.56},{"m":"GFS 0.250°","t":"2026-09-01T17:00","v":16.73},{"m":"GFS 0.250°","t":"2026-09-01T20:00","v":15.11},{"m":"GFS 0.250°","t":"2026-09-01T23:00","v":9.02},
      {"m":"GFS 0.250°","t":"2026-09-02T02:00","v":6.55},{"m":"GFS 0.250°","t":"2026-09-02T05:00","v":4.6},{"m":"GFS 0.250°","t":"2026-09-02T08:00","v":5.37},{"m":"GFS 0.250°","t":"2026-09-02T11:00","v":7.92},{"m":"GFS 0.250°","t":"2026-09-02T14:00","v":9.08},{"m":"GFS 0.250°","t":"2026-09-02T17:00","v":9.94},{"m":"GFS 0.250°","t":"2026-09-02T20:00","v":9.99},{"m":"GFS 0.250°","t":"2026-09-02T23:00","v":5.01},
      {"m":"GFS 0.250°","t":"2026-09-03T02:00","v":3.96},{"m":"GFS 0.250°","t":"2026-09-03T05:00","v":3.47},{"m":"GFS 0.250°","t":"2026-09-03T08:00","v":2.78},{"m":"GFS 0.250°","t":"2026-09-03T11:00","v":4.72},{"m":"GFS 0.250°","t":"2026-09-03T14:00","v":7.89},{"m":"GFS 0.250°","t":"2026-09-03T17:00","v":10.8},{"m":"GFS 0.250°","t":"2026-09-03T20:00","v":8.76},{"m":"GFS 0.250°","t":"2026-09-03T23:00","v":4.88},
      {"m":"GFS 0.250°","t":"2026-09-04T02:00","v":3.96},{"m":"GFS 0.250°","t":"2026-09-04T05:00","v":3.36},{"m":"GFS 0.250°","t":"2026-09-04T08:00","v":1.7},{"m":"GFS 0.250°","t":"2026-09-04T11:00","v":3.83},{"m":"GFS 0.250°","t":"2026-09-04T14:00","v":6.95},{"m":"GFS 0.250°","t":"2026-09-04T17:00","v":9.45},{"m":"GFS 0.250°","t":"2026-09-04T20:00","v":8.16},{"m":"GFS 0.250°","t":"2026-09-04T23:00","v":4.85},

      {"m":"NBM","t":"2026-08-27T12:00","v":4.93},{"m":"NBM","t":"2026-08-27T13:00","v":5.82},{"m":"NBM","t":"2026-08-27T14:00","v":6.55},{"m":"NBM","t":"2026-08-27T15:00","v":7.68},{"m":"NBM","t":"2026-08-27T16:00","v":9.05},{"m":"NBM","t":"2026-08-27T17:00","v":10.1},{"m":"NBM","t":"2026-08-27T18:00","v":10.1},{"m":"NBM","t":"2026-08-27T19:00","v":9.45},{"m":"NBM","t":"2026-08-27T20:00","v":8.97},{"m":"NBM","t":"2026-08-27T21:00","v":7.92},{"m":"NBM","t":"2026-08-27T22:00","v":6.71},{"m":"NBM","t":"2026-08-27T23:00","v":5.58},
      {"m":"NBM","t":"2026-08-28T00:00","v":4.93},{"m":"NBM","t":"2026-08-28T01:00","v":4.2},{"m":"NBM","t":"2026-08-28T02:00","v":3.64},{"m":"NBM","t":"2026-08-28T03:00","v":3.27},{"m":"NBM","t":"2026-08-28T04:00","v":3.07},{"m":"NBM","t":"2026-08-28T05:00","v":2.95},{"m":"NBM","t":"2026-08-28T06:00","v":2.91},{"m":"NBM","t":"2026-08-28T07:00","v":2.75},{"m":"NBM","t":"2026-08-28T08:00","v":2.99},{"m":"NBM","t":"2026-08-28T09:00","v":2.99},{"m":"NBM","t":"2026-08-28T10:00","v":3.91},{"m":"NBM","t":"2026-08-28T11:00","v":4.88},{"m":"NBM","t":"2026-08-28T12:00","v":6.7},{"m":"NBM","t":"2026-08-28T13:00","v":8.48},{"m":"NBM","t":"2026-08-28T14:00","v":9.89},{"m":"NBM","t":"2026-08-28T15:00","v":10.18},{"m":"NBM","t":"2026-08-28T16:00","v":9.89},{"m":"NBM","t":"2026-08-28T17:00","v":9.29},{"m":"NBM","t":"2026-08-28T18:00","v":8.57},{"m":"NBM","t":"2026-08-28T19:00","v":7.27},{"m":"NBM","t":"2026-08-28T20:00","v":6.38},{"m":"NBM","t":"2026-08-28T21:00","v":5.58},{"m":"NBM","t":"2026-08-28T22:00","v":4.72},{"m":"NBM","t":"2026-08-28T23:00","v":4.2},
      {"m":"NBM","t":"2026-08-29T02:00","v":2.99},{"m":"NBM","t":"2026-08-29T05:00","v":2.34},{"m":"NBM","t":"2026-08-29T08:00","v":2.5},{"m":"NBM","t":"2026-08-29T11:00","v":3.42},{"m":"NBM","t":"2026-08-29T14:00","v":6.55},{"m":"NBM","t":"2026-08-29T17:00","v":7.43},{"m":"NBM","t":"2026-08-29T20:00","v":5.04},{"m":"NBM","t":"2026-08-29T23:00","v":4.8},
      {"m":"NBM","t":"2026-08-30T02:00","v":5.04},{"m":"NBM","t":"2026-08-30T05:00","v":4.01},{"m":"NBM","t":"2026-08-30T08:00","v":3.47},{"m":"NBM","t":"2026-08-30T11:00","v":3.1},{"m":"NBM","t":"2026-08-30T14:00","v":4.93},{"m":"NBM","t":"2026-08-30T17:00","v":5.85},{"m":"NBM","t":"2026-08-30T20:00","v":4.28},{"m":"NBM","t":"2026-08-30T23:00","v":4.31},
      {"m":"NBM","t":"2026-08-31T02:00","v":3.72},{"m":"NBM","t":"2026-08-31T05:00","v":3.39},{"m":"NBM","t":"2026-08-31T08:00","v":4.25},{"m":"NBM","t":"2026-08-31T11:00","v":7.08},{"m":"NBM","t":"2026-08-31T14:00","v":10.18},{"m":"NBM","t":"2026-08-31T17:00","v":10.99},{"m":"NBM","t":"2026-08-31T20:00","v":8.73},{"m":"NBM","t":"2026-08-31T23:00","v":6.71},
      {"m":"NBM","t":"2026-09-01T02:00","v":5.37},{"m":"NBM","t":"2026-09-01T05:00","v":4.2},{"m":"NBM","t":"2026-09-01T08:00","v":4.77},{"m":"NBM","t":"2026-09-01T11:00","v":6.25},{"m":"NBM","t":"2026-09-01T14:00","v":10.38},{"m":"NBM","t":"2026-09-01T17:00","v":12.6},{"m":"NBM","t":"2026-09-01T20:00","v":10.26},{"m":"NBM","t":"2026-09-01T23:00","v":7.71},
      {"m":"NBM","t":"2026-09-02T02:00","v":5.66},{"m":"NBM","t":"2026-09-02T05:00","v":3.47},{"m":"NBM","t":"2026-09-02T08:00","v":3.85},{"m":"NBM","t":"2026-09-02T11:00","v":4.98},{"m":"NBM","t":"2026-09-02T14:00","v":7.47},{"m":"NBM","t":"2026-09-02T17:00","v":8.94},{"m":"NBM","t":"2026-09-02T20:00","v":6.84},{"m":"NBM","t":"2026-09-02T23:00","v":5.5},
      {"m":"NBM","t":"2026-09-03T02:00","v":4.56},{"m":"NBM","t":"2026-09-03T05:00","v":3.52},{"m":"NBM","t":"2026-09-03T08:00","v":4.01},{"m":"NBM","t":"2026-09-03T11:00","v":4.88},{"m":"NBM","t":"2026-09-03T14:00","v":7.27},{"m":"NBM","t":"2026-09-03T17:00","v":8.65},{"m":"NBM","t":"2026-09-03T20:00","v":6.34},{"m":"NBM","t":"2026-09-03T23:00","v":5.01},
      {"m":"NBM","t":"2026-09-04T02:00","v":4.28},{"m":"NBM","t":"2026-09-04T05:00","v":3.75},{"m":"NBM","t":"2026-09-04T08:00","v":3.52},{"m":"NBM","t":"2026-09-04T11:00","v":5.25},{"m":"NBM","t":"2026-09-04T17:00","v":9.5},{"m":"NBM","t":"2026-09-04T23:00","v":5.62}
    ]
  },
  "layer": [
    {
      "mark": {"type": "point", "filled": true, "size": 121, "strokeWidth": 1, "opacity": 1},
      "encoding": {
        "x": {
          "field": "t", "type": "temporal", "title": "Date",
          "scale": {"domain": [{"year": 2026, "month": 8, "date": 27}, {"year": 2026, "month": 9, "date": 5}], "nice": false},
          "axis": {
            "format": "%m/%d", "labelPadding": 28, "titlePadding": 19,
            "values": [
              {"year": 2026, "month": 8, "date": 27}, {"year": 2026, "month": 8, "date": 28}, {"year": 2026, "month": 8, "date": 29},
              {"year": 2026, "month": 8, "date": 30}, {"year": 2026, "month": 8, "date": 31}, {"year": 2026, "month": 9, "date": 1},
              {"year": 2026, "month": 9, "date": 2}, {"year": 2026, "month": 9, "date": 3}, {"year": 2026, "month": 9, "date": 4},
              {"year": 2026, "month": 9, "date": 5}
            ]
          }
        },
        "y": {
          "field": "v", "type": "quantitative", "title": "20-ft wind speed (mph)",
          "scale": {"domain": [0, 40], "nice": false},
          "axis": {"values": [0, 5, 10, 15, 20, 25, 30, 35, 40], "labelPadding": 24, "titlePadding": 26}
        },
        "color": {
          "field": "m", "type": "nominal", "title": null,
          "scale": {
            "domain": ["ECMWF", "HRRR", "NAM 3 km", "NAM 12 km", "GFS 0.125°", "GFS 0.250°", "NBM"],
            "range": ["#0000cc", "#006400", "#ff0000", "#000000", "#c0c0c0", "#87ceeb", "#ffa500"]
          }
        },
        "stroke": {
          "field": "m", "type": "nominal", "title": null,
          "scale": {
            "domain": ["ECMWF", "HRRR", "NAM 3 km", "NAM 12 km", "GFS 0.125°", "GFS 0.250°", "NBM"],
            "range": ["#0000cc", "#006400", "#ff0000", "#000000", "#c0c0c0", "#87ceeb", "#ffa500"]
          }
        },
        "shape": {
          "field": "m", "type": "nominal", "title": null,
          "scale": {
            "domain": ["ECMWF", "HRRR", "NAM 3 km", "NAM 12 km", "GFS 0.125°", "GFS 0.250°", "NBM"],
            "range": [
              "M-0.78,-0.78L0.78,-0.78L0.78,0.78L-0.78,0.78Z",
              "M-0.9,0A0.9,0.9 0 1,0 0.9,0A0.9,0.9 0 1,0 -0.9,0Z",
              "M0,-0.85L1,0.9L-1,0.9Z",
              "M0,0.85L1,-0.9L-1,-0.9Z",
              "M0,-0.85L0.85,0L0,0.85L-0.85,0Z",
              "M0,-0.95L0.903,-0.294L0.559,0.769L-0.559,0.769L-0.903,-0.294Z",
              "M-1.15,0L1.15,0M0,-1.15L0,1.15M-0.82,-0.82L0.82,0.82M-0.82,0.82L0.82,-0.82"
            ]
          }
        }
      }
    },
    {
      "transform": [{"filter": "datum.m === 'NBM'"}],
      "mark": {"type": "point", "opacity": 0},
      "encoding": {
        "x": {
          "field": "t", "type": "temporal",
          "axis": {
            "orient": "top", "labels": false, "title": null,
            "values": [
              {"year": 2026, "month": 8, "date": 27}, {"year": 2026, "month": 8, "date": 28}, {"year": 2026, "month": 8, "date": 29},
              {"year": 2026, "month": 8, "date": 30}, {"year": 2026, "month": 8, "date": 31}, {"year": 2026, "month": 9, "date": 1},
              {"year": 2026, "month": 9, "date": 2}, {"year": 2026, "month": 9, "date": 3}, {"year": 2026, "month": 9, "date": 4},
              {"year": 2026, "month": 9, "date": 5}
            ]
          }
        },
        "y": {
          "field": "v", "type": "quantitative",
          "axis": {"orient": "right", "labels": false, "title": null, "values": [0, 5, 10, 15, 20, 25, 30, 35, 40]}
        }
      }
    }
  ],
  "resolve": {"axis": {"x": "independent", "y": "independent"}}
}
